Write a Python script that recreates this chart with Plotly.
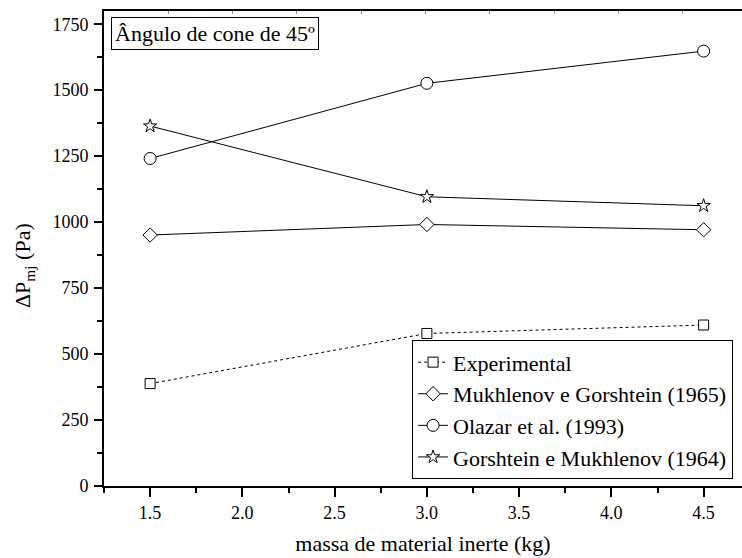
import plotly.graph_objects as go

massa = [1.5, 3.0, 4.5]
experimental = [388, 578, 610]
mukhlenov_gorshtein_1965 = [951, 991, 971]
olazar_1993 = [1241, 1526, 1648]
gorshtein_mukhlenov_1964 = [1364, 1096, 1062]

series_names = ["Experimental", "Mukhlenov e Gorshtein (1965)",
                "Olazar et al. (1993)", "Gorshtein e Mukhlenov (1964)"]

FONT = "Liberation Serif"

fig = go.Figure()

styles = [
    (experimental, "square", 10, "3px,3px"),
    (mukhlenov_gorshtein_1965, "diamond", 11, "solid"),
    (olazar_1993, "circle", 12, "solid"),
    (gorshtein_mukhlenov_1964, "star", 10, "solid"),
]
for name, (vals, sym, size, dash) in zip(series_names, styles):
    fig.add_trace(go.Scatter(
        x=massa, y=vals, name=name, mode="lines+markers",
        line=dict(color="black", width=1, dash=dash),
        marker=dict(symbol=sym, size=size, color="white",
                    line=dict(color="black", width=1)),
    ))

# invisible trace to activate top axis with its own tick spacing
fig.add_trace(go.Scatter(x=[0], y=[0], xaxis="x2", yaxis="y",
                         mode="markers", marker=dict(opacity=0),
                         showlegend=False, hoverinfo="skip"))

fig.update_layout(
    width=742, height=558,
    margin=dict(l=104, r=0, t=11, b=72),
    paper_bgcolor="white", plot_bgcolor="white",
    font=dict(family=FONT, size=18, color="black"),
    showlegend=True,
    legend=dict(
        x=0.986, y=0.014, xanchor="right", yanchor="bottom",
        bordercolor="black", borderwidth=1, bgcolor="white",
        font=dict(family=FONT, size=22, color="black"),
        tracegroupgap=0, itemsizing="trace",
    ),
    xaxis=dict(
        range=[1.25, 4.708], tickvals=[1.5, 2.0, 2.5, 3.0, 3.5, 4.0, 4.5],
        ticktext=["1.5", "2.0", "2.5", "3.0", "3.5", "4.0", "4.5"],
        ticks="outside", ticklen=9, tickwidth=2, tickcolor="black",
        showline=True, linewidth=2, linecolor="black",
        showgrid=False, zeroline=False,
        minor=dict(ticks="outside", ticklen=5, tickwidth=2, tickcolor="black",
                   tickvals=[1.25, 1.75, 2.25, 2.75, 3.25, 3.75, 4.25], showgrid=False),
        title=dict(text="massa de material inerte (kg)",
                   font=dict(family=FONT, size=22), standoff=14),
        tickfont=dict(family=FONT, size=18),
    ),
    xaxis2=dict(
        overlaying="x", side="top", range=[0, 9.92], dtick=1, tick0=0,
        ticks="inside", ticklen=3, tickwidth=1, tickcolor="#888888",
        showticklabels=False, showline=True, linewidth=2, linecolor="black",
        showgrid=False, zeroline=False,
    ),
    yaxis=dict(
        range=[0, 1800], tickvals=[0, 250, 500, 750, 1000, 1250, 1500, 1750],
        ticks="outside", ticklen=8, tickwidth=2, tickcolor="black",
        showline=True, linewidth=2, linecolor="black",
        showgrid=False, zeroline=False,
        minor=dict(ticks="outside", ticklen=5, tickwidth=2, tickcolor="black",
                   tickvals=[125, 375, 625, 875, 1125, 1375, 1625], showgrid=False),
        tickfont=dict(family=FONT, size=18),
        ticklabelstandoff=2,
    ),
    annotations=[
        dict(text="Ângulo de cone de 45º", xref="paper", yref="paper",
             x=0.0105, y=0.987, xanchor="left", yanchor="top", showarrow=False,
             bordercolor="black", borderwidth=1, borderpad=3, bgcolor="white",
             font=dict(family=FONT, size=22, color="black")),
        dict(text="ΔP<sub>mj</sub> (Pa)", xref="paper", yref="paper",
             x=0, y=0.463, xshift=-80, xanchor="center", yanchor="middle",
             textangle=-90, showarrow=False,
             font=dict(family=FONT, size=22, color="black")),
    ],
)

fig.write_html("out.html")
